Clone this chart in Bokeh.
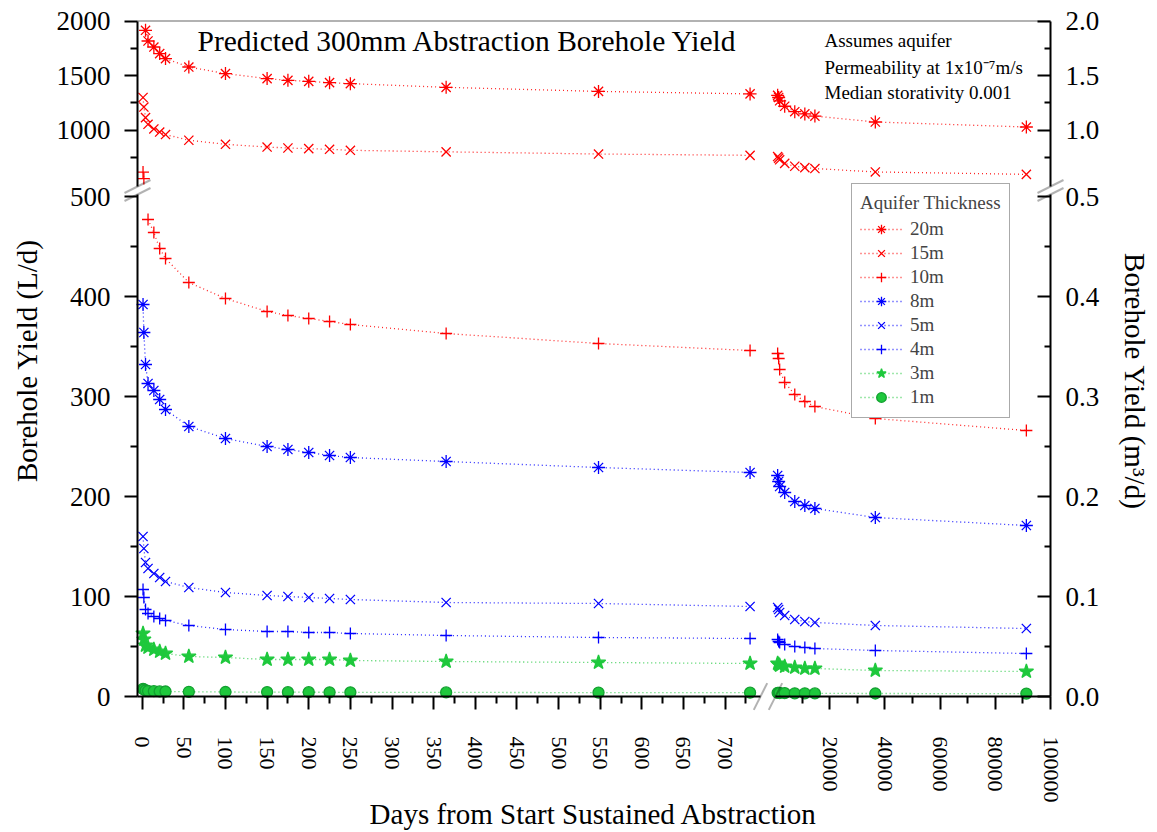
import numpy as np
from bokeh.plotting import figure
from bokeh.models import (Range1d, LinearAxis, FixedTicker, Legend, LegendItem,
                          Label, PolyAnnotation, PrintfTickFormatter)
from bokeh.embed import file_html
from bokeh.resources import INLINE

# ---------------- data ----------------
days_left = [1, 2, 4, 7, 14, 21, 28, 56, 100, 150, 175, 200, 225, 250, 365, 548, 730]
days_right = [1095, 1460, 1825, 3650, 7300, 10950, 14600, 36500, 91250]

y20_left = [None, None, 1915, 1817, 1762, 1702, 1656, 1579, 1519, 1473, 1457, 1448, 1436, 1427, 1393, 1356, 1333]
y20_right = [1320, 1300, 1270, 1220, 1170, 1150, 1130, 1076, 1030]
y15_left = [1300, 1213, 1116, 1055, 1012, 984, 961, 909, 872, 847, 838, 832, 826, 817, 803, 783, 771]
y15_right = [760, 745, 730, 697, 671, 659, 650, 619, 597]
y10_left = [618, 558, None, 477, 464, 448, 438, 414, 398, 385, 381, 378, 375, 372, 363, 353, 346]
y10_right = [343, 338, 327, 314, 302, 295, 290, 278, 266]
y8_left = [392, 364, 332, 313, 306, 297, 287, 270, 258, 250, 247, 244, 241, 239, 235, 229, 224]
y8_right = [221, 215, 210, 204, 195, 191, 188, 179, 171]
y5_left = [160, 148, 134, 128, 123, 119, 115, 109, 104, 101, 100, 99, 98, 97, 94, 93, 90]
y5_right = [89, 87, 84, 81, 77, 75, 74, 71, 68]
y4_left = [107, 99, 87, 83, 80, 78, 76, 71, 67, 65, 65, 64, 64, 63, 61, 59, 58]
y4_right = [57, 55, 54, 52, 50, 49, 48, 46, 43]
y3_left = [63, 57, 51, 49, 47, 45, 43, 40, 39, 37, 37, 37, 37, 36, 35, 34, 33]
y3_right = [33, 32, 31, 30, 29, 28, 28, 26, 25]
y1_left = [7.7, 7.0, 6.0, 5.5, 5.3, 5.1, 5.0, 4.7, 4.5, 4.4, 4.3, 4.3, 4.2, 4.2, 4.1, 3.9, 3.8]
y1_right = [3.7, 3.6, 3.5, 3.4, 3.2, 3.2, 3.1, 3.0, 2.9]

x_ticks_left = [0, 50, 100, 150, 200, 250, 300, 350, 400, 450, 500, 550, 600, 650, 700]
x_minor_left = [25, 75, 125, 175, 225, 275, 325, 375, 425, 475, 525, 575, 625, 675, 725]
x_ticks_right = [20000, 40000, 60000, 80000, 100000]
x_minor_right = [10000, 30000, 50000, 70000, 90000]
y_ticks_lower = [0, 100, 200, 300, 400, 500]
y_minor_lower = [50, 150, 250, 350, 450]
y_ticks_upper = [1000, 1500, 2000]
y_minor_upper = [750, 1250, 1750]

RED, BLUE, GREEN = "#ff0000", "#0000ff", "#1ec83c"
FONT = "Liberation Serif"

# ---------------- geometry (picture pixels) ----------------
W, H = 1152, 830
FL, FR, FT, FB = 137.0, 1050.0, 20.5, 696.0     # visible box of the chart
XL0, XLK = 141.7, 0.8327                          # left x segment: px of day 0, px/day
XR_A, XR_APX, XR_B = 20000, 829.3, 100000         # right x segment anchor
XRK = (FR - XR_APX) / (XR_B - XR_A)
YLK = 1.0                                         # lower y segment px per L/d (0 at FB)
YUK = 0.1093                                      # upper y segment px per L/d (2000 at FT)
YU_TOP = 2000
Y_SPLIT = 500
XB_L, XB_R = 760.0, 775.0                         # x break (left end / right start)
YB_U, YB_L = 186.0, 194.0                         # y break (upper end / lower start)

# canvas-wide frame; default ranges are picture pixels (y downwards)
p = figure(width=W, height=H, x_range=Range1d(0, W), y_range=Range1d(H, 0),
           output_backend="svg", toolbar_location=None, tools="",
           x_axis_location=None, y_axis_location=None,
           min_border=0, min_border_left=0, min_border_right=0,
           min_border_top=0, min_border_bottom=0)
p.xgrid.visible = False
p.ygrid.visible = False
p.outline_line_color = None
p.background_fill_color = "white"
p.border_fill_color = "white"

xl = Range1d((0 - XL0) / XLK, (W - XL0) / XLK)
xr = Range1d(XR_A + (0 - XR_APX) / XRK, XR_A + (W - XR_APX) / XRK)
yl = Range1d((FB - H) / YLK, FB / YLK)
yu = Range1d(YU_TOP - (H - FT) / YUK, YU_TOP + FT / YUK)
p.extra_x_ranges = {"xl": xl, "xr": xr}
p.extra_y_ranges = {"yl": yl, "yu": yu,
                    "ylm": Range1d(yl.start / 1000, yl.end / 1000),
                    "yum": Range1d(yu.start / 1000, yu.end / 1000)}


def style_axis(ax, font_size):
    ax.axis_line_width = 2
    ax.axis_line_color = "black"
    ax.major_tick_line_width = 2
    ax.minor_tick_line_width = 2
    ax.major_label_text_font = FONT
    ax.major_label_text_font_size = font_size
    ax.major_label_text_color = "black"


# bottom axes (two segments)
for name, ticks, minor, bounds in (
        ("xl", x_ticks_left, x_minor_left, ((FL - XL0) / XLK, (XB_L - XL0) / XLK)),
        ("xr", x_ticks_right, x_minor_right, (XR_A + (XB_R - XR_APX) / XRK, XR_B))):
    ax = LinearAxis(x_range_name=name, fixed_location=FB, bounds=bounds,
                    ticker=FixedTicker(ticks=ticks, minor_ticks=minor),
                    formatter=PrintfTickFormatter(format="%d"))
    style_axis(ax, "22px")
    ax.major_label_orientation = "vertical"
    ax.major_tick_out, ax.major_tick_in = 13, 0
    ax.minor_tick_out, ax.minor_tick_in = 7, 0
    ax.major_label_standoff = 27
    p.add_layout(ax, "below")

# left axes (L/d) and right axes (m3/d), two segments each
lower_b = (0, (FB - YB_L) / YLK)
upper_b = (YU_TOP - (YB_U - FT) / YUK, YU_TOP)
for name, ticks, minor, bounds in (("yl", y_ticks_lower, y_minor_lower, lower_b),
                                   ("yu", y_ticks_upper, y_minor_upper, upper_b)):
    ax = LinearAxis(y_range_name=name, fixed_location=FL, bounds=bounds,
                    ticker=FixedTicker(ticks=ticks, minor_ticks=minor),
                    formatter=PrintfTickFormatter(format="%d"))
    style_axis(ax, "27px")
    ax.major_tick_out, ax.major_tick_in = 13, 0
    ax.minor_tick_out, ax.minor_tick_in = 7, 0
    ax.major_label_standoff = 14
    p.add_layout(ax, "left")

    axr = LinearAxis(y_range_name=name + "m", fixed_location=FR,
                     bounds=(bounds[0] / 1000, bounds[1] / 1000),
                     ticker=FixedTicker(ticks=[t / 1000 for t in ticks],
                                        minor_ticks=[t / 1000 for t in minor]),
                     formatter=PrintfTickFormatter(format="%.1f"))
    style_axis(axr, "27px")
    axr.major_tick_out, axr.major_tick_in = 0, 13
    axr.minor_tick_out, axr.minor_tick_in = 0, 6
    axr.major_label_standoff = 15
    p.add_layout(axr, "right")


def add_poly(xs, ys, fill=None, line=None, width=2):
    p.add_layout(PolyAnnotation(xs=xs, ys=ys, fill_color=fill, fill_alpha=1,
                                line_color=line, line_width=width))


# top frame line
add_poly([FL, FR], [FT, FT], line="black")

# break symbols
for xc in (FL, FR):
    for yc in (YB_U, YB_L):
        add_poly([xc - 13, xc + 13], [yc + 6.5, yc - 6.5], line="black")
for xc in (XB_L, XB_R):
    add_poly([xc - 6.7, xc + 6.7], [FB + 13.4, FB - 13.4], line="black")

# ---------------- series ----------------
series = [
    ("20m", RED, "asterisk", 13, y20_left, y20_right),
    ("15m", RED, "x", 13, y15_left, y15_right),
    ("10m", RED, "cross", 12, y10_left, y10_right),
    ("8m", BLUE, "asterisk", 13, y8_left, y8_right),
    ("5m", BLUE, "x", 13, y5_left, y5_right),
    ("4m", BLUE, "cross", 12, y4_left, y4_right),
    ("3m", GREEN, "star", 15, y3_left, y3_right),
    ("1m", GREEN, "circle", 11, y1_left, y1_right),
]

items = []
for label, color, marker, size, vl, vr in series:
    rends = []
    for days, vals, xname in ((days_left, vl, "xl"), (days_right, vr, "xr")):
        d = np.array(days, dtype=float)
        v = np.array([np.nan if a is None else a for a in vals], dtype=float)
        for yname, mask in (("yl", v <= Y_SPLIT), ("yu", v > Y_SPLIT)):
            if not mask.any():
                continue
            vv = np.where(mask, v, np.nan)
            lr = p.line(d, vv, x_range_name=xname, y_range_name=yname,
                        line_color=color, line_dash="1 3", line_width=1.3, line_alpha=0.85)
            fill = color if marker in ("star", "circle") else None
            sr = p.scatter(d[mask], v[mask], marker=marker, size=size,
                           x_range_name=xname, y_range_name=yname,
                           line_color="#12a030" if marker == "circle" else color,
                           fill_color=fill, line_width=1.3)
            rends.append((lr, sr))
    items.append(LegendItem(label=label, renderers=[rends[0][0], rends[0][1]]))

legend = Legend(items=items, location=(851, H - 418), title="Aquifer Thickness",
                title_text_font=FONT, title_text_font_size="19px",
                title_text_font_style="normal", title_standoff=3,
                label_text_font=FONT, label_text_font_size="19px",
                glyph_width=42, glyph_height=24, label_height=24, spacing=0,
                padding=8, label_standoff=8, margin=0,
                border_line_color="#555555", border_line_width=1.5,
                background_fill_color="white", background_fill_alpha=1)
p.add_layout(legend, "center")


# ---------------- texts ----------------
def add_label(x, y, text, size, angle=0.0, align="left", baseline="middle"):
    p.add_layout(Label(x=x, y=y, text=text, text_font=FONT, text_font_size=size,
                       angle=angle, text_align=align, text_baseline=baseline,
                       text_color="black"))


add_label(197, 40, "Predicted 300mm Abstraction Borehole Yield", "29.5px")
add_label(824, 40, "Assumes aquifer", "19px")
add_label(824, 67, "Permeability at 1x10\u207b\u2077m/s", "19px")
add_label(824, 92, "Median storativity 0.001", "19px")
add_label(26, 360, "Borehole Yield (L/d)", "29px", angle=np.pi / 2, align="center")
add_label(1134, 381, "Borehole Yield (m\u00b3/d)", "29px", angle=-np.pi / 2, align="center")
add_label(593, 813, "Days from Start Sustained Abstraction", "29px", align="center")

open("out.html", "w").write(file_html(p, INLINE))
